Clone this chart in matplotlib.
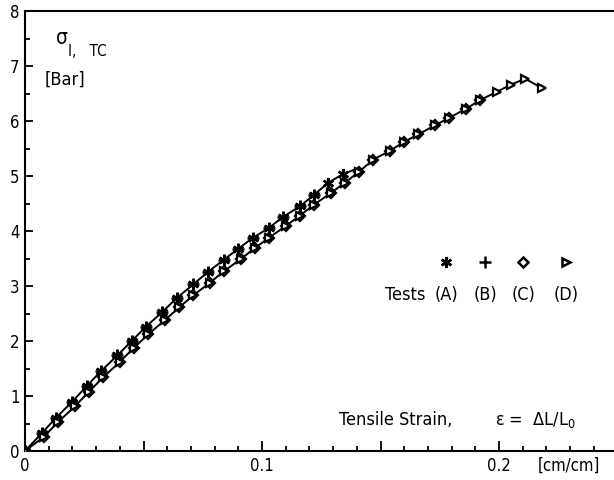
import numpy as np
import matplotlib
matplotlib.use("Agg")
import matplotlib.pyplot as plt
import matplotlib.ticker as mticker

plt.rcParams["font.family"] = ["DejaVu Sans"]
plt.rcParams["font.stretch"] = "condensed"

# ── upper branch (tests A, B)
strain_up = [0.000, 0.007, 0.013, 0.020, 0.026, 0.032, 0.039, 0.045, 0.051, 0.058,
             0.064, 0.071, 0.077, 0.084, 0.090, 0.096, 0.103, 0.109, 0.116, 0.122,
             0.128, 0.134, 0.141]
stress_up = [0.00, 0.32, 0.60, 0.90, 1.18, 1.45, 1.74, 2.00, 2.26, 2.53,
             2.78, 3.03, 3.25, 3.48, 3.68, 3.87, 4.06, 4.26, 4.45, 4.66,
             4.88, 5.03, 5.15]

# ── lower branch (tests C, D), merges with upper near 0.14
strain_lo = [0.000, 0.008, 0.014, 0.021, 0.027, 0.033, 0.040, 0.046, 0.052, 0.059,
             0.065, 0.071, 0.078, 0.084, 0.091, 0.097, 0.103, 0.110, 0.116, 0.122,
             0.129, 0.135, 0.141, 0.147, 0.154, 0.160, 0.166, 0.173, 0.179, 0.186,
             0.192, 0.199, 0.205, 0.211, 0.218]
stress_lo = [0.00, 0.26, 0.53, 0.81, 1.08, 1.34, 1.62, 1.88, 2.12, 2.38,
             2.61, 2.83, 3.06, 3.27, 3.49, 3.69, 3.88, 4.09, 4.28, 4.48,
             4.69, 4.88, 5.08, 5.30, 5.46, 5.62, 5.76, 5.92, 6.06, 6.22,
             6.38, 6.53, 6.66, 6.77, 6.60]

n_a = 22   # asterisks along upper branch
n_b = 20   # plus signs along upper branch
n_c = 31   # diamonds along lower branch

fig = plt.figure(figsize=(6.14, 4.8), dpi=100)
ax = fig.add_axes([25/614, 29/480, 589/614, 440/480])

ax.plot(strain_up, stress_up, color="black", lw=1.4, zorder=2)
ax.plot(strain_lo, stress_lo, color="black", lw=1.4, zorder=2)

mk = dict(color="black", ls="none", zorder=3)
ax.plot(strain_up[:n_a], stress_up[:n_a], marker=(6, 2, 0), ms=8, mew=1.8, **mk)
ax.plot(strain_up[:n_b], stress_up[:n_b], marker="+", ms=8, mew=1.8, **mk)
ax.plot(strain_lo[:n_c], stress_lo[:n_c], marker="D", ms=5, mew=1.6,
        mfc="white", **mk)
ax.plot(strain_lo, stress_lo, marker=">", ms=6, mew=1.6, mfc="white", **mk)

ax.set_xlim(0, 0.2485)
ax.set_ylim(0, 8)

ax.xaxis.set_major_locator(mticker.MultipleLocator(0.05))
ax.xaxis.set_minor_locator(mticker.MultipleLocator(0.01))
ax.xaxis.set_major_formatter(mticker.FuncFormatter(
    lambda v, _: {0: "0", 10: "0.1", 20: "0.2"}.get(int(round(v * 100)), "")))
ax.yaxis.set_major_locator(mticker.MultipleLocator(1))
ax.yaxis.set_minor_locator(mticker.MultipleLocator(0.5))
ax.yaxis.set_major_formatter(mticker.FuncFormatter(lambda v, _: f"{v:.0f}"))

ax.tick_params(axis="x", which="major", direction="in", length=7, width=1.3,
               labelsize=12, pad=4)
ax.tick_params(axis="x", which="minor", direction="in", length=3.5, width=1.3)
ax.tick_params(axis="y", which="major", direction="in", length=6, width=1.3,
               labelsize=12, pad=4)
ax.tick_params(axis="y", which="minor", direction="in", length=3.5, width=1.3)

for s in ("left", "bottom", "top"):
    ax.spines[s].set_linewidth(1.5)
ax.spines["right"].set_visible(False)

# ── axis annotations
ax.text(0.052, 0.938, "σ", transform=ax.transAxes, fontsize=15, va="center", ha="left")
ax.text(0.073, 0.907, "I,   TC", transform=ax.transAxes, fontsize=11, va="center", ha="left")
ax.text(0.034, 0.843, "[Bar]", transform=ax.transAxes, fontsize=13, va="center", ha="left")
ax.text(0.976, -0.033, "[cm/cm]", transform=ax.transAxes, fontsize=12,
        va="center", ha="right")

ax.text(0.533, 0.07, "Tensile Strain,", transform=ax.transAxes, fontsize=13,
        va="center", ha="left")
ax.text(0.798, 0.07, r"ε =  ΔL/L$_{\mathregular{0}}$", transform=ax.transAxes,
        fontsize=13, va="center", ha="left")

# ── key
key_x = [0.715, 0.781, 0.846, 0.918]
key_labels = ["(A)", "(B)", "(C)", "(D)"]
key_markers = [(6, 2, 0), "+", "D", ">"]
key_ms = [8, 8, 5, 6]
ax.text(0.68, 0.355, "Tests", transform=ax.transAxes, fontsize=13, va="center", ha="right")
for x, lab, m, s in zip(key_x, key_labels, key_markers, key_ms):
    ax.plot([x], [0.43], transform=ax.transAxes, marker=m, ms=s, mew=1.8,
            color="black", mfc="white", ls="none", clip_on=False)
    ax.text(x, 0.355, lab, transform=ax.transAxes, fontsize=13, va="center", ha="center")

fig.savefig("out.png", dpi=100)
